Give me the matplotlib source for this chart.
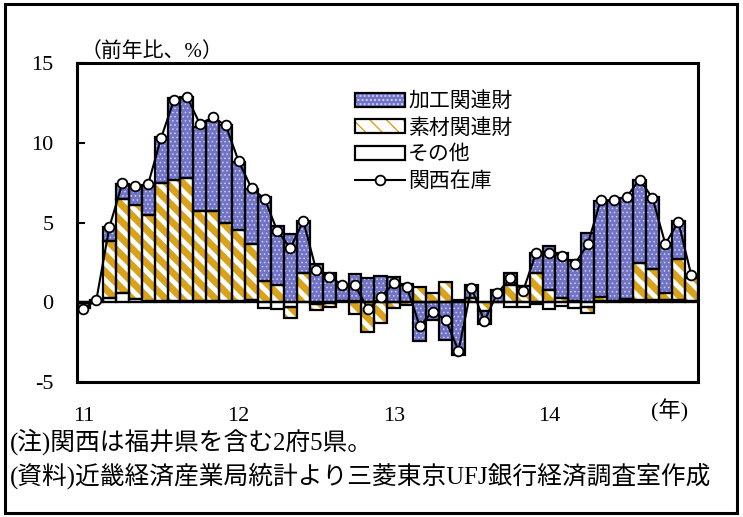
import numpy as np
import matplotlib
matplotlib.use('Agg')
import matplotlib.pyplot as plt
from matplotlib.patches import Patch, Rectangle
from matplotlib.lines import Line2D

plt.rcParams['font.family'] = ['Liberation Serif', 'Noto Sans CJK JP']

# monthly, 2011/01 - 2014/12, % y/y contributions
year_labels = ['11', '12', '13', '14']
processing = [-0.35, 0.05, 0.85, 0.95, 1.2, 1.8, 2.85, 5.1, 5.1, 5.3, 5.7, 6.15,
              4.3, 3.45, 5.25, 3.7, 4.3, 3.3, 2.4, 1.85, 1.05, 1.7, 1.5, 1.6,
              1.55, 1.15, -2.45, -1.15, -2.4, -3.3, 0.8, -0.8, 0.75, 0.75, 0.0, 1.3,
              2.75, 2.85, 2.6, 4.35, 6.0, 6.25, 6.35, 5.2, 4.55, 3.1, 2.4, 0.0]
materials = [0.0, 0.05, 3.6, 5.85, 5.9, 5.4, 7.4, 7.6, 7.7, 5.6, 5.6, 4.85,
             4.4, 3.5, 1.35, 1.1, -0.7, 1.8, -0.4, -0.25, 0.0, -0.75, -1.9, -1.3,
             -0.35, -0.2, 0.95, 0.6, 1.25, 0.1, 0.25, -0.55, 0.0, 1.05, 1.0, 1.8,
             0.75, 0.25, 0.05, -0.4, 0.3, 0.05, 0.1, 2.3, 1.9, 0.4, 2.55, 1.4]
other = [-0.05, 0.05, 0.25, 0.6, 0.2, 0.1, 0.1, 0.1, 0.1, 0.1, 0.1, 0.1,
         0.1, 0.15, -0.35, -0.45, -0.3, 0.0, -0.1, -0.05, 0.05, 0.05, 0.0, 0.05,
         0.0, 0.0, 0.0, 0.0, 0.0, 0.05, 0.0, 0.0, 0.0, -0.3, -0.3, -0.1,
         -0.45, -0.25, -0.35, -0.3, 0.05, 0.05, 0.1, 0.15, 0.15, 0.15, 0.15, 0.1]
kansai = [-0.45, 0.15, 4.7, 7.45, 7.3, 7.4, 10.3, 12.7, 12.9, 11.2, 11.6, 11.1,
          8.85, 7.15, 6.5, 4.45, 3.4, 5.1, 2.0, 1.6, 1.1, 1.05, -0.45, 0.3,
          1.2, 0.95, -1.5, -0.6, -1.1, -3.05, 0.9, -1.2, 0.55, 1.5, 0.7, 3.1,
          3.1, 2.9, 2.4, 3.65, 6.4, 6.4, 6.6, 7.7, 6.55, 3.65, 5.05, 1.7]
names = ['加工関連財', '素材関連財', 'その他', '関西在庫']

blue = '#7073c6'
gold = '#d9a21b'
# styles: (face, hatch, hatch colour, hatch width)
styles = [('white', None, 'black', 1.0), ('white', '\\\\', gold, 5.0),
          (blue, '....', '#cfd1f3', 0.6)]

fig = plt.figure(figsize=(7.43, 5.17), dpi=100)
ax = fig.add_axes([77/743, 1-381.7/517, 620.7/743, 318.4/517])

x = np.arange(len(kansai))
pos_base = np.zeros(len(x))
neg_base = np.zeros(len(x))
for vals, (fc, hatch, hc, hw) in zip([other, materials, processing], styles):
    v = np.array(vals)
    base = np.where(v >= 0, pos_base, neg_base)
    with plt.rc_context({'hatch.linewidth': hw}):
        bars = ax.bar(x, v, width=1.0, bottom=base, color=fc, hatch=hatch,
                      edgecolor=hc, linewidth=0, zorder=2)
    for b in bars:
        if hasattr(b, 'set_hatch_linewidth'):
            b.set_hatch_linewidth(hw)
    ax.bar(x, v, width=1.0, bottom=base, fill=False, edgecolor='black',
           linewidth=1.6, zorder=3)
    pos_base = pos_base + np.where(v >= 0, v, 0)
    neg_base = neg_base + np.where(v < 0, v, 0)

ax.axhline(0, color='black', lw=1.5, zorder=2.5)
ax.plot(x, kansai, color='black', lw=1.5, marker='o', ms=7,
        mfc='white', mec='black', mew=1.3, zorder=4)

ax.set_xlim(-0.5, len(x) - 0.5)
ax.set_ylim(-5, 15)
ax.set_yticks([-5, 0, 5, 10, 15])
ax.set_yticklabels(['-5', '0', '5', '10', '15'])
ax.set_xticks(np.arange(0, 48, 12))
ax.set_xticklabels(year_labels)
ax.tick_params(axis='y', direction='in', length=6, width=1.5, pad=17, labelsize=16)
ax.tick_params(axis='x', length=0, pad=18, labelsize=16)
for s in ax.spines.values():
    s.set_linewidth(2.2)

ax.text(0.005, 1.035, '（前年比、%）', transform=ax.transAxes, fontsize=15,
        ha='left', va='center')
ax.text(0.955, -0.09, '(年)', transform=ax.transAxes, fontsize=16,
        ha='center', va='center')

# legend
def leg_patch(fc, hatch, hc, hw):
    with plt.rc_context({'hatch.linewidth': hw}):
        p = Patch(facecolor=fc, hatch=hatch, edgecolor=hc, linewidth=0)
    if hasattr(p, 'set_hatch_linewidth'):
        p.set_hatch_linewidth(hw)
    return (p, Patch(fill=False, edgecolor='black', linewidth=1.6))

handles = [leg_patch(*styles[2]), leg_patch(*styles[1]), leg_patch(*styles[0]),
           Line2D([], [], color='black', lw=1.5, marker='o', ms=7,
                  mfc='white', mec='black', mew=1.3)]
fig.legend(handles, names, loc='upper left', bbox_to_anchor=(355/743, 1-90/517),
           frameon=False, borderpad=0, borderaxespad=0, handlelength=2.4,
           handleheight=0.65, handletextpad=0.15, labelspacing=0.22,
           prop={'family': 'Noto Sans CJK JP', 'size': 15})

fig.text(10/743, 1-442/517, '(注)関西は福井県を含む2府5県。', fontsize=17.8,
         ha='left', va='center')
fig.text(10/743, 1-476/517, '(資料)近畿経済産業局統計より三菱東京UFJ銀行経済調査室作成',
         fontsize=17.8, ha='left', va='center')

fig.patches.append(Rectangle((5/743, 4/517), 732/743, 509/517, fill=False,
                             edgecolor='black', linewidth=2.2,
                             transform=fig.transFigure, figure=fig))

fig.savefig('out.png', dpi=100)
